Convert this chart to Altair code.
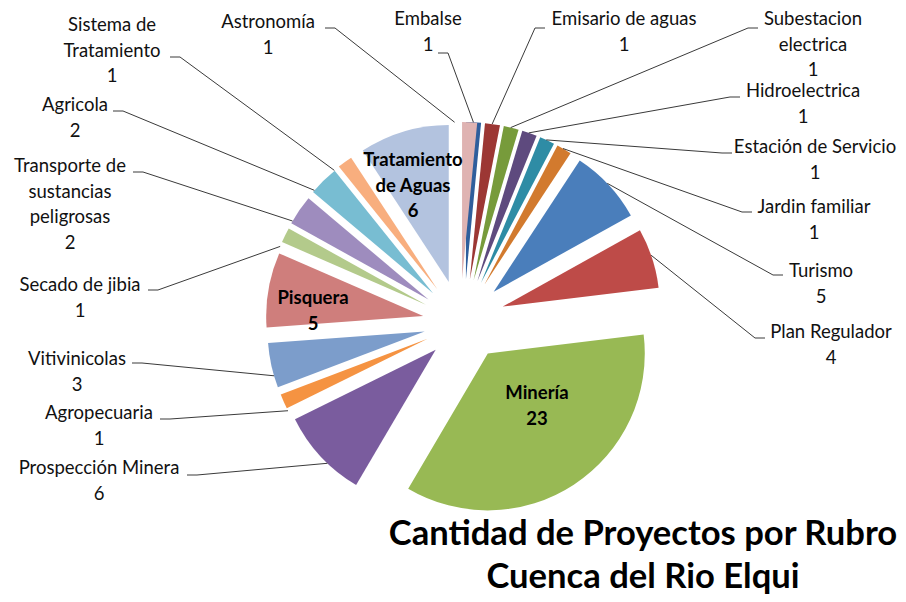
import math
import altair as alt
import pandas as pd

# ---------------- data ----------------
rubros = [
    "Embalse", "Emisario de aguas", "Subestacion electrica", "Hidroelectrica",
    "Estación de Servicio", "Jardin familiar", "Turismo", "Plan Regulador",
    "Minería", "Prospección Minera", "Agropecuaria", "Vitivinicolas",
    "Pisquera", "Secado de jibia", "Transporte de sustancias peligrosas",
    "Agricola", "Sistema de Tratamiento", "Tratamiento de Aguas", "Astronomía",
]
valores = [1, 1, 1, 1, 1, 1, 5, 4, 23, 6, 1, 3, 5, 1, 2, 2, 1, 6, 1]
etiquetas = [
    "Embalse", "Emisario de aguas", "Subestacion\nelectrica", "Hidroelectrica",
    "Estación de Servicio", "Jardin familiar", "Turismo", "Plan Regulador",
    "Minería", "Prospección Minera", "Agropecuaria", "Vitivinicolas",
    "Pisquera", "Secado de jibia", "Transporte de\nsustancias\npeligrosas",
    "Agricola", "Sistema de\nTratamiento", "Tratamiento\nde Aguas", "Astronomía",
]
interior = ["Minería", "Pisquera", "Tratamiento de Aguas"]

# ---------------- styles / layout ----------------
colores = [
    "#2F5E9C", "#9C3734", "#779B3B", "#5E4A7E", "#2E8CA5", "#D27A2E",
    "#4A7EBB", "#BE4B48", "#98B954", "#7A5C9E", "#F59342", "#7C9DCB",
    "#CF7E7C", "#B3CA8B", "#9E8CBE", "#78BDD2", "#F8AE7E", "#B3C3DF", "#DFB3B2",
]
# first-line centre of each label, relative to the pie centre (px)
label_dx = [-36, 160, 349, 339, 351, 350, 357, 367, 73, -365, -365, -387,
            -151, -384, -394, -389, -352, -51, -196]
label_dy = [-301, -301, -301, -229, -173, -113, -49, 12, 73, 148, 93, 39,
            -22, -35, -154, -215, -295, -160, -298]
# where each leader line leaves its label
anchor_dx = [-26, 81, 294, 276, 268, 288, 319, 301, None, -277, -304, -332,
             None, -316, -331, -351, -294, None, -139]
anchor_dy = [-267, -292, -292, -223, -167, -108, -45, 18, None, 155, 99, 43,
             None, -30, -148, -209, -263, None, -292]

W, H = 890, 586
CX, CY = 456, 312          # pie centre inside the plot area
R = 157                    # pie radius
E = 41                     # explosion distance
FONT = "Lato"

df = pd.DataFrame({
    "rubro": rubros,
    "valor": valores,
    "orden": list(range(len(rubros))),
    "texto": [f"{t}\n{v}" for t, v in zip(etiquetas, valores)],
    "interior": [r in interior for r in rubros],
    "lx": label_dx, "ly": label_dy,
    "ax": anchor_dx, "ay": anchor_dy,
})

xs = alt.Scale(domain=[-CX, W - CX], range=[0, W], nice=False, zero=False)
ys = alt.Scale(domain=[-CY, H - CY], range=[0, H], nice=False, zero=False)

base = (
    alt.Chart(df)
    .transform_window(t1="sum(valor)", sort=[alt.SortField("orden")], frame=[None, 0])
    .transform_joinaggregate(total="sum(valor)")
    .transform_calculate(t0="datum.t1 - datum.valor")
    .transform_calculate(mid="(datum.t1 - datum.valor / 2) / datum.total * 2 * PI")
    .transform_calculate(cx=f"{E} * sin(datum.mid)")
    .transform_calculate(cy=f"-{E} * cos(datum.mid)")
    .transform_calculate(ex=f"{E + R} * sin(datum.mid)")
    .transform_calculate(ey=f"-{E + R} * cos(datum.mid)")
    .transform_calculate(bx="datum.ax + (datum.ax < 0 ? 10 : -10)")
)

arcs = base.mark_arc(radius=R).encode(
    theta=alt.Theta("t0:Q", stack=None),
    theta2="t1:Q",
    x=alt.X("cx:Q", scale=xs, axis=None),
    y=alt.Y("cy:Q", scale=ys, axis=None),
    color=alt.Color("rubro:N", scale=alt.Scale(domain=rubros, range=colores), legend=None),
)

lead_a = base.transform_filter("!datum.interior").mark_rule(
    color="#3a3a3a", strokeWidth=1
).encode(
    x=alt.X("ex:Q", scale=xs), y=alt.Y("ey:Q", scale=ys),
    x2="bx:Q", y2="ay:Q",
)
lead_b = base.transform_filter("!datum.interior").mark_rule(
    color="#3a3a3a", strokeWidth=1
).encode(
    x=alt.X("bx:Q", scale=xs), y=alt.Y("ay:Q", scale=ys),
    x2="ax:Q", y2="ay:Q",
)

out_labels = base.transform_filter("!datum.interior").mark_text(
    font=FONT, fontSize=18.5, lineHeight=25.5, lineBreak="\n",
    align="center", baseline="middle", color="#111111",
).encode(
    x=alt.X("lx:Q", scale=xs), y=alt.Y("ly:Q", scale=ys), text="texto:N",
)
in_labels = base.transform_filter("datum.interior").mark_text(
    font=FONT, fontSize=18.5, fontWeight="bold", lineHeight=25.5, lineBreak="\n",
    align="center", baseline="middle", color="#000000",
).encode(
    x=alt.X("lx:Q", scale=xs), y=alt.Y("ly:Q", scale=ys), text="texto:N",
)

chart = (
    alt.layer(arcs, lead_a, lead_b, out_labels, in_labels)
    .properties(
        width=W, height=H,
        autosize=alt.AutoSizeParams(type="none"),
        padding=0,
        title=alt.TitleParams(
            text=["Cantidad de Proyectos por Rubro", "Cuenca del Rio Elqui"],
            orient="bottom", anchor="end", align="center", frame="group",
            dx=-255, offset=-76, font=FONT, fontSize=34.6, fontWeight="bold",
            lineHeight=43, color="#000000",
        ),
    )
    .configure_view(stroke=None)
)

chart.save("out.html", embed_options={"renderer": "svg", "actions": False})
